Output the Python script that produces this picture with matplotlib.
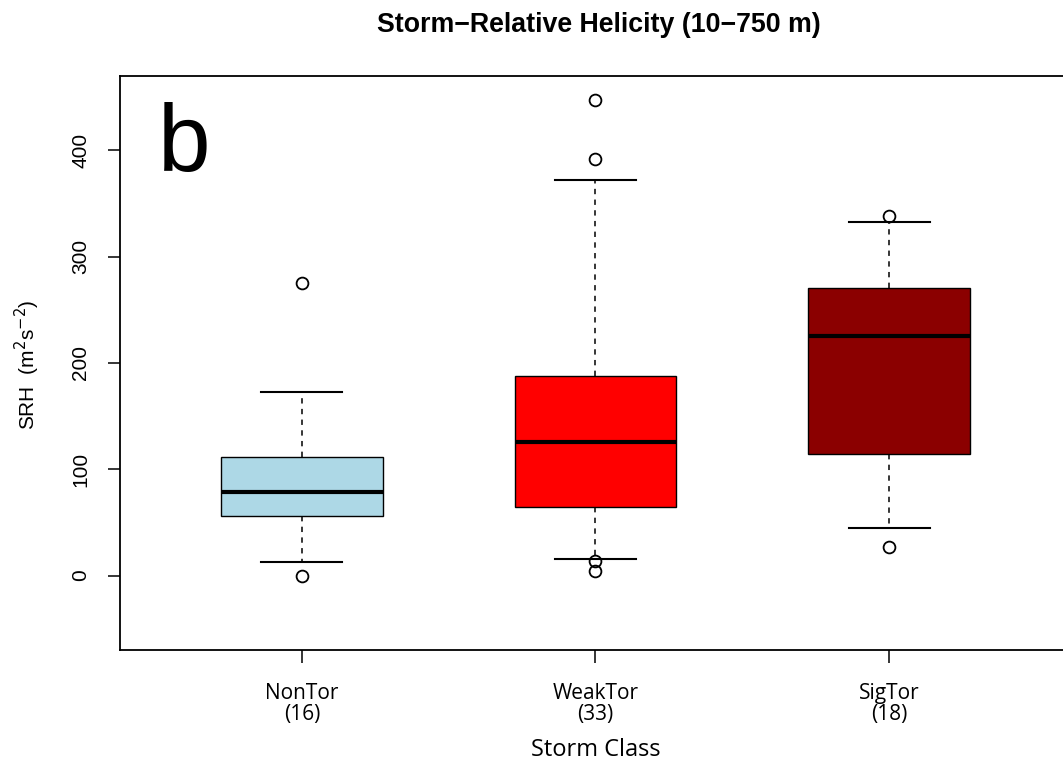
#!/usr/bin/env python3
import matplotlib
matplotlib.use("Agg")
import matplotlib.pyplot as plt

# Box statistics (SRH, m2 s-2)
classes = ["NonTor", "WeakTor", "SigTor"]
counts = [16, 33, 18]
whisker_low = [13, 16, 45]
q1 = [56, 65, 114]
medians = [79, 126, 225]
q3 = [112, 188, 271]
whisker_high = [173, 372, 333]
outliers = [[0, 275], [14, 4, 392, 447], [338, 27]]

box_colors = ["#ADD8E6", "#FF0000", "#8B0000"]
y_ticks = [0, 100, 200, 300, 400]


def main() -> int:
    plt.rcParams["font.family"] = ["Liberation Sans", "DejaVu Sans"]
    label_font = ["Open Sans", "Liberation Sans"]

    fig = plt.figure(figsize=(10.63, 7.70), dpi=100)
    # right edge sits just past the image border, as in the cropped original
    ax = fig.add_axes([120 / 1063, 1 - 650 / 770, 951 / 1063, 574 / 770])

    stats = []
    for i, name in enumerate(classes):
        stats.append({
            "label": f"{name}\n({counts[i]})",
            "whislo": whisker_low[i],
            "q1": q1[i],
            "med": medians[i],
            "q3": q3[i],
            "whishi": whisker_high[i],
            "fliers": outliers[i],
        })

    bp = ax.bxp(
        stats,
        positions=[1, 2, 3],
        widths=0.55,
        patch_artist=True,
        showfliers=True,
        boxprops=dict(edgecolor="black", linewidth=1.0),
        medianprops=dict(color="black", linewidth=3.0, solid_capstyle="butt"),
        whiskerprops=dict(color="black", linewidth=1.1, linestyle=(0, (3.5, 3.5))),
        capprops=dict(color="black", linewidth=1.5),
        flierprops=dict(marker="o", markersize=8.5, markerfacecolor="none",
                        markeredgecolor="black", markeredgewidth=1.3),
        capwidths=0.276,
    )
    for patch, color in zip(bp["boxes"], box_colors):
        patch.set_facecolor(color)

    ax.set_xlim(0.38, 3.62)
    ax.set_ylim(-70, 470)
    ax.set_yticks(y_ticks)
    ax.tick_params(axis="y", labelrotation=90, length=9, width=1.1,
                   labelsize=15, pad=12.5)
    ax.tick_params(axis="x", length=9, width=1.1, labelsize=15, pad=15)
    for lbl in ax.get_yticklabels():
        lbl.set_verticalalignment("center")
    for lbl in ax.get_xticklabels():
        lbl.set_linespacing(0.95)
        lbl.set_family(label_font)

    for spine in ax.spines.values():
        spine.set_linewidth(1.3)

    ax.set_ylabel("SRH  (m$^2$s$^{-2}$)", fontsize=15)
    ax.yaxis.set_label_coords(27 / 1063, 1 - 365 / 770, transform=fig.transFigure)
    ax.yaxis.label.set_verticalalignment("center")
    ax.set_xlabel("Storm Class", fontsize=17, family=label_font)
    ax.xaxis.set_label_coords(596 / 1063, 1 - 750 / 770, transform=fig.transFigure)
    ax.xaxis.label.set_verticalalignment("center")
    ax.text(0.60, 381, "b", fontsize=68, ha="center", va="baseline")

    fig.text(599 / 1063, 1 - 25 / 770, "Storm\u2212Relative Helicity (10\u2212750 m)",
             fontsize=19.3, fontweight="bold", ha="center", va="center")

    fig.savefig("out.png", dpi=100)
    return 0


if __name__ == "__main__":
    raise SystemExit(main())
